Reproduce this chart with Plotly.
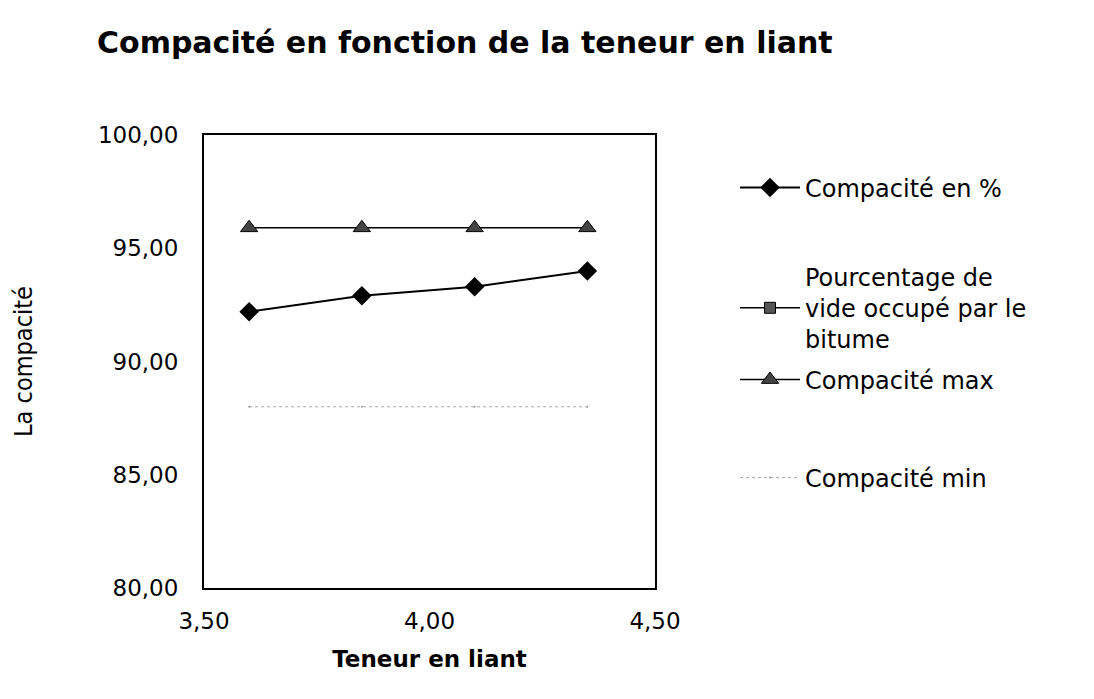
import plotly.graph_objects as go

teneur = [3.60, 3.85, 4.10, 4.35]
compacite = [92.2, 92.9, 93.3, 94.0]
vide_bitume = [None, None, None, None]
compacite_max = [95.9, 95.9, 95.9, 95.9]
compacite_min = [88.0, 88.0, 88.0, 88.0]

FONT = "DejaVu Sans, Verdana, sans-serif"

fig = go.Figure()
fig.add_trace(go.Scatter(
    x=teneur, y=compacite, name="Compacité en %", mode="lines+markers",
    line=dict(color="black", width=2),
    marker=dict(symbol="diamond", size=15, color="black"),
    legend="legend"))
fig.add_trace(go.Scatter(
    x=teneur, y=vide_bitume, name="Pourcentage de<br>vide occupé par le<br>bitume",
    mode="lines+markers",
    line=dict(color="black", width=1.5),
    marker=dict(symbol="square", size=11, color="#555", line=dict(color="black", width=1)),
    legend="legend2"))
fig.add_trace(go.Scatter(
    x=teneur, y=compacite_max, name="Compacité max", mode="lines+markers",
    line=dict(color="black", width=1.5),
    marker=dict(symbol="triangle-up", size=15, color="#444", line=dict(color="black", width=1)),
    legend="legend3"))
fig.add_trace(go.Scatter(
    x=teneur, y=compacite_min, name="Compacité min", mode="lines+markers",
    line=dict(color="#aaaaaa", width=1, dash="dot"),
    marker=dict(symbol="circle", size=2, color="#999999"),
    legend="legend4"))

# page offset of 8px (body margin)
OFF = 8

def py(p):
    return (588 - p) / 453.0

def px(p):
    return (p - 204) / 451.0

leg = dict(font=dict(family=FONT, size=24, color="black"), bgcolor="rgba(0,0,0,0)",
           xanchor="left", yanchor="middle", itemwidth=60, visible=True)

fig.update_layout(
    width=1094 - OFF, height=699 - OFF,
    showlegend=True,
    paper_bgcolor="white", plot_bgcolor="white",
    separators=", ",
    margin=dict(l=204 - OFF, r=439, t=135 - OFF, b=111),
    title=dict(text="<b>Compacité en fonction de la teneur en liant</b>",
               font=dict(family=FONT, size=30, color="black"),
               x=(97 - OFF) / (1094 - OFF), xanchor="left",
               y=1 - (42 - OFF) / (699 - OFF), yanchor="middle"),
    xaxis=dict(range=[3.5, 4.5], dtick=0.5, tickformat=".2f",
               showgrid=False, zeroline=False,
               showline=True, linecolor="black", linewidth=2, mirror=True,
               ticks="", ticklabelstandoff=11,
               tickfont=dict(family=FONT, size=23, color="black"),
               title=dict(text="<b>Teneur en liant</b>", standoff=18,
                          font=dict(family=FONT, size=23, color="black"))),
    yaxis=dict(range=[80, 100], dtick=5, tickformat=".2f",
               showgrid=False, zeroline=False,
               showline=True, linecolor="black", linewidth=2, mirror=True,
               ticks="", ticklabelstandoff=19,
               tickfont=dict(family=FONT, size=23, color="black"),
               title=dict(text="La compacité", standoff=58,
                          font=dict(family="Liberation Sans Narrow, DejaVu Sans Condensed, sans-serif",
                                    size=25, color="black"))),
    legend=dict(x=px(735), y=py(188), **leg),
    legend2=dict(x=px(735), y=py(308), **leg),
    legend3=dict(x=px(735), y=py(380), **leg),
    legend4=dict(x=px(735), y=py(478), **leg),
)

fig.write_html("out.html")
